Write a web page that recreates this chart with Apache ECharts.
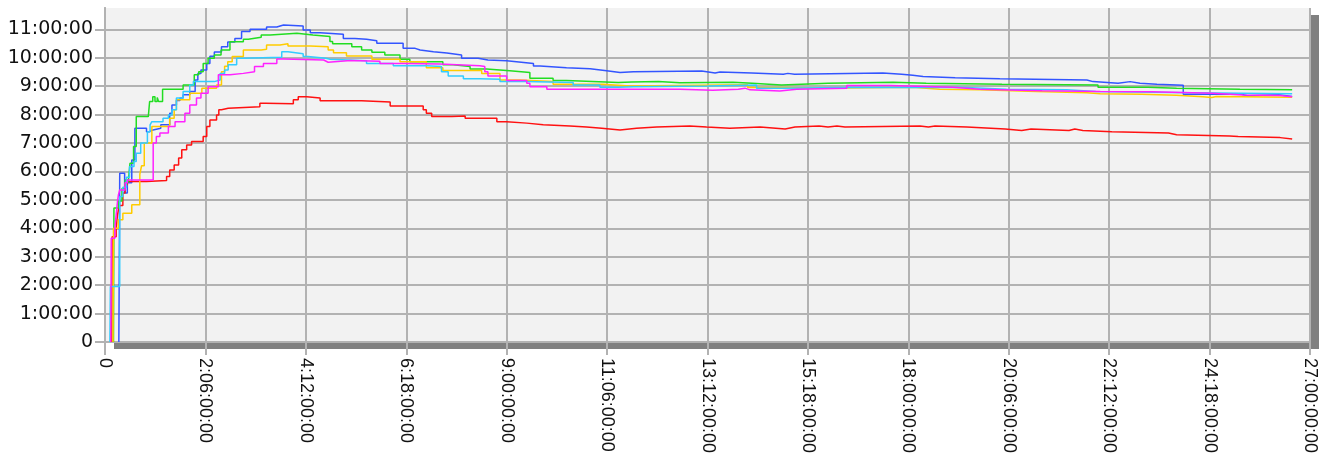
<!DOCTYPE html>
<html>
<head>
<meta charset="utf-8">
<script src="https://cdn.jsdelivr.net/npm/echarts@6/dist/echarts.min.js"></script>
<style>
html,body{margin:0;padding:0;background:#fff;}
#chart{width:1334px;height:459px;}
</style>
</head>
<body>
<div id="chart"></div>
<script>
// x values in days, y values in hours
const xTicksDays = [0, 2.25, 4.5, 6.75, 9, 11.25, 13.5, 15.75, 18, 20.25, 22.5, 24.75, 27];
const yTicksHours = [0, 1, 2, 3, 4, 5, 6, 7, 8, 9, 10, 11];

const seriesNames = ['Blue', 'Green', 'Yellow', 'Cyan', 'Magenta', 'Red'];

const blueData = [[0.31,0],[0.32,2.8],[0.33,5.94],[0.44,5.24],[0.5,5.6],[0.6,6.4],[0.67,7.52],[0.93,7.4],[1.0,7.45],[1.05,7.52],[1.25,7.64],[1.45,8.05],[1.5,8.34],[1.6,8.5],[1.68,8.58],[1.75,8.7],[1.9,8.81],[2.02,9.22],[2.08,9.45],[2.15,9.57],[2.28,9.8],[2.35,10.05],[2.45,10.2],[2.61,10.39],[2.75,10.55],[2.91,10.68],[3.06,10.92],[3.25,11.0],[3.62,11.08],[3.85,11.15],[4.0,11.12],[4.44,10.98],[4.6,10.88],[4.82,10.83],[5.34,10.68],[5.6,10.65],[5.86,10.6],[6.09,10.51],[6.68,10.33],[6.95,10.27],[7.06,10.21],[7.36,10.17],[7.66,10.1],[7.99,9.98],[8.36,9.92],[8.58,9.89],[9.0,9.86],[9.22,9.8],[9.6,9.71],[9.75,9.65],[10.34,9.61],[10.87,9.54],[11.24,9.48],[11.54,9.51],[11.84,9.53],[13.37,9.46],[13.67,9.5],[13.78,9.46],[14.49,9.42],[15.2,9.45],[15.3,9.42],[15.45,9.46],[17.43,9.42],[17.85,9.38],[18.1,9.34],[18.33,9.3],[19.05,9.26],[20.05,9.22],[22.0,9.16],[22.14,9.1],[22.7,9.16],[22.97,9.1],[23.19,9.07],[23.57,9.03],[24.16,8.72],[25.45,8.66],[25.6,8.7],[26.3,8.64],[26.6,8.64]];

const greenData = [[0.19,0],[0.2,4.71],[0.3,4.96],[0.38,5.4],[0.45,5.7],[0.52,5.6],[0.56,6.29],[0.64,6.88],[0.7,7.93],[0.97,7.93],[1.0,8.46],[1.07,8.63],[1.12,8.46],[1.17,8.6],[1.2,8.46],[1.29,8.89],[1.75,9.04],[2.0,9.4],[2.1,9.51],[2.2,9.8],[2.31,9.98],[2.45,10.1],[2.6,10.27],[2.8,10.56],[3.1,10.65],[3.21,10.72],[3.5,10.8],[3.7,10.86],[4.3,10.8],[4.66,10.75],[5.04,10.57],[5.1,10.49],[5.53,10.39],[5.75,10.27],[5.98,10.19],[6.27,10.1],[6.61,9.95],[6.83,9.86],[7.57,9.75],[7.8,9.69],[8.18,9.6],[8.55,9.54],[9.07,9.48],[9.52,9.28],[10.04,9.2],[10.34,9.13],[11.5,9.15],[11.8,9.16],[12.4,9.12],[12.88,9.14],[14.07,9.1],[14.5,9.04],[15.16,9.1],[16.2,9.14],[17.66,9.1],[18.4,9.07],[20.1,9.04],[22.25,8.96],[23.37,8.93],[24.01,8.89],[25.43,8.87],[26.6,8.87]];

const yellowData = [[0.18,0],[0.19,4.0],[0.3,4.3],[0.4,4.53],[0.6,4.83],[0.78,5.9],[0.82,6.2],[0.88,7.0],[1.05,7.58],[1.45,7.87],[1.55,8.17],[1.6,8.52],[1.9,8.75],[2.17,8.93],[2.5,9.04],[2.61,9.51],[2.68,9.7],[2.75,9.86],[2.85,10.04],[3.1,10.27],[3.5,10.3],[3.62,10.45],[3.92,10.49],[4.1,10.41],[4.6,10.39],[5.0,10.27],[5.12,10.18],[5.41,10.06],[5.98,9.95],[6.61,9.86],[7.2,9.65],[7.57,9.55],[8.44,9.45],[8.85,9.22],[9.3,9.16],[10.04,9.07],[11.16,9.01],[11.76,9.05],[14.4,8.95],[15.3,8.93],[16.0,8.96],[18.1,8.89],[18.7,8.87],[19.6,8.81],[20.87,8.77],[22.0,8.73],[22.3,8.72],[23.23,8.68],[24.0,8.63],[24.6,8.6],[24.8,8.64],[24.9,8.61],[26.6,8.61]];

const cyanData = [[0.11,0],[0.12,1.95],[0.33,5.12],[0.4,5.44],[0.48,5.8],[0.55,6.17],[0.65,6.35],[0.7,6.64],[0.8,7.0],[0.95,7.4],[1.01,7.64],[1.05,7.75],[1.3,7.87],[1.42,7.99],[1.5,8.17],[1.6,8.58],[1.75,8.81],[1.9,9.04],[1.98,9.16],[2.45,9.22],[2.58,9.45],[2.68,9.57],[2.76,9.75],[2.95,9.98],[3.1,10.02],[3.96,10.21],[4.1,10.14],[4.44,10.04],[4.55,9.98],[4.95,9.95],[5.04,9.89],[5.86,9.8],[6.46,9.72],[7.2,9.69],[7.54,9.51],[7.69,9.36],[8.03,9.26],[8.4,9.24],[8.85,9.16],[9.4,9.13],[10.49,9.04],[11.09,8.96],[11.5,8.98],[11.84,9.01],[13.5,9.04],[14.6,8.93],[15.2,8.95],[16.5,8.96],[19.16,8.89],[20.2,8.87],[21.55,8.81],[22.2,8.77],[24.3,8.73],[26.6,8.72]];

const magentaData = [[0.13,0],[0.14,3.65],[0.22,4.0],[0.25,4.47],[0.28,4.94],[0.3,5.17],[0.33,5.35],[0.45,5.6],[0.5,5.7],[1.08,7.0],[1.15,7.23],[1.23,7.35],[1.42,7.58],[1.57,7.75],[1.79,8.05],[1.9,8.34],[2.05,8.58],[2.15,8.75],[2.31,8.98],[2.54,9.4],[2.8,9.45],[3.1,9.51],[3.35,9.69],[3.55,9.8],[3.85,9.96],[4.0,9.92],[4.9,9.86],[4.93,9.84],[5.0,9.9],[5.5,9.88],[6.16,9.8],[6.7,9.78],[7.5,9.72],[8.4,9.69],[8.51,9.51],[8.58,9.36],[9.0,9.2],[9.45,9.1],[9.52,8.98],[9.9,8.89],[12.88,8.86],[13.62,8.89],[14.19,8.93],[14.34,8.87],[14.45,8.83],[15.12,8.89],[15.5,8.93],[16.62,9.02],[17.59,8.96],[19.0,8.89],[19.6,8.84],[21.0,8.81],[22.3,8.8],[23.45,8.75],[24.82,8.69],[25.5,8.67],[26.33,8.63],[26.6,8.63]];

const redData = [[0.15,0],[0.16,3.7],[0.25,4.0],[0.28,4.47],[0.3,4.65],[0.33,4.8],[0.4,5.24],[0.45,5.53],[0.5,5.65],[0.93,5.68],[1.38,5.82],[1.45,6.05],[1.55,6.23],[1.65,6.47],[1.72,6.76],[1.83,6.93],[1.94,7.05],[2.2,7.23],[2.28,7.58],[2.35,7.81],[2.5,7.99],[2.55,8.17],[2.61,8.22],[2.76,8.28],[3.47,8.4],[3.6,8.38],[4.22,8.52],[4.33,8.63],[4.52,8.58],[4.82,8.49],[5.75,8.44],[6.39,8.3],[7.13,8.17],[7.2,8.05],[7.32,7.93],[7.77,7.95],[8.07,7.87],[8.78,7.75],[9.0,7.7],[9.45,7.64],[9.82,7.6],[10.42,7.56],[10.79,7.52],[11.13,7.46],[11.54,7.52],[11.91,7.56],[12.36,7.6],[13.1,7.56],[13.48,7.52],[14.0,7.56],[14.68,7.49],[15.24,7.56],[15.46,7.6],[16.0,7.56],[16.2,7.6],[16.4,7.56],[16.58,7.6],[18.26,7.56],[18.45,7.6],[18.6,7.56],[19.31,7.49],[20.17,7.44],[20.54,7.49],[20.75,7.44],[21.6,7.49],[21.73,7.44],[21.91,7.4],[22.56,7.35],[23.83,7.29],[24.01,7.25],[25.2,7.23],[25.39,7.19],[26.33,7.14],[26.6,7.14]];

const seriesData = [blueData, greenData, yellowData, cyanData, magentaData, redData];
const seriesColors = ['#3355ff', '#22dd22', '#ffcc00', '#33ccff', '#ff22ff', '#ff1111'];

function pad(n){ return (n < 10 ? '0' : '') + n; }
function fmtDays(v){
  if (Math.abs(v) < 1e-9) return '0';
  const totalH = Math.round(v * 24);
  const d = Math.floor(totalH / 24), h = totalH % 24;
  return d + ':' + pad(h) + ':00:00';
}
function fmtHours(v){
  if (Math.abs(v) < 1e-9) return '0';
  if (Math.abs(v - Math.round(v)) > 1e-6) return '';
  return Math.round(v) + ':00:00';
}

const gridColor = '#b2b2b2';
const frameLine = {show: true, lineStyle: {color: gridColor, width: 2}};
const chart = echarts.init(document.getElementById('chart'), null, {renderer: 'canvas'});
chart.setOption({
  animation: false,
  backgroundColor: '#ffffff',
  grid: {
    left: 105, right: 24, top: 8, bottom: 117,
    show: true,
    backgroundColor: '#f2f2f2',
    borderWidth: 0,
    shadowColor: '#808080',
    shadowBlur: 0,
    shadowOffsetX: 9,
    shadowOffsetY: 7
  },
  xAxis: [{
    type: 'value', min: 0, max: 27, interval: 2.25, position: 'bottom',
    axisLine: frameLine,
    axisTick: {show: true, length: 13, lineStyle: {color: gridColor, width: 2}},
    splitLine: {show: true, lineStyle: {color: gridColor, width: 2}},
    axisLabel: {
      rotate: -90, margin: 16, color: '#111',
      fontFamily: 'Liberation Sans', fontSize: 18,
      formatter: fmtDays,
      customValues: xTicksDays
    }
  }, {
    type: 'value', min: 0, max: 27, position: 'top',
    axisLine: frameLine, axisTick: {show: false}, axisLabel: {show: false}, splitLine: {show: false}
  }],
  yAxis: [{
    type: 'value', min: 0, max: 11.75, interval: 1, position: 'left',
    axisLine: frameLine,
    axisTick: {show: true, length: 10, lineStyle: {color: gridColor, width: 2}, customValues: yTicksHours},
    splitLine: {show: true, lineStyle: {color: gridColor, width: 2}},
    axisLabel: {
      margin: 12, color: '#111',
      fontFamily: 'DejaVu Sans', fontSize: 19,
      formatter: fmtHours,
      customValues: yTicksHours
    }
  }, {
    type: 'value', min: 0, max: 11.75, position: 'right',
    axisLine: frameLine, axisTick: {show: false}, axisLabel: {show: false}, splitLine: {show: false}
  }],
  series: seriesNames.map((n, i) => ({
    name: n,
    type: 'line',
    step: 'end',
    xAxisIndex: 0,
    yAxisIndex: 0,
    data: seriesData[i],
    showSymbol: false,
    symbol: 'none',
    lineStyle: {color: seriesColors[i], width: 1.5},
    itemStyle: {color: seriesColors[i]},
    z: 3 + (i === 5 ? 0 : i)
  }))
});
</script>
</body>
</html>
